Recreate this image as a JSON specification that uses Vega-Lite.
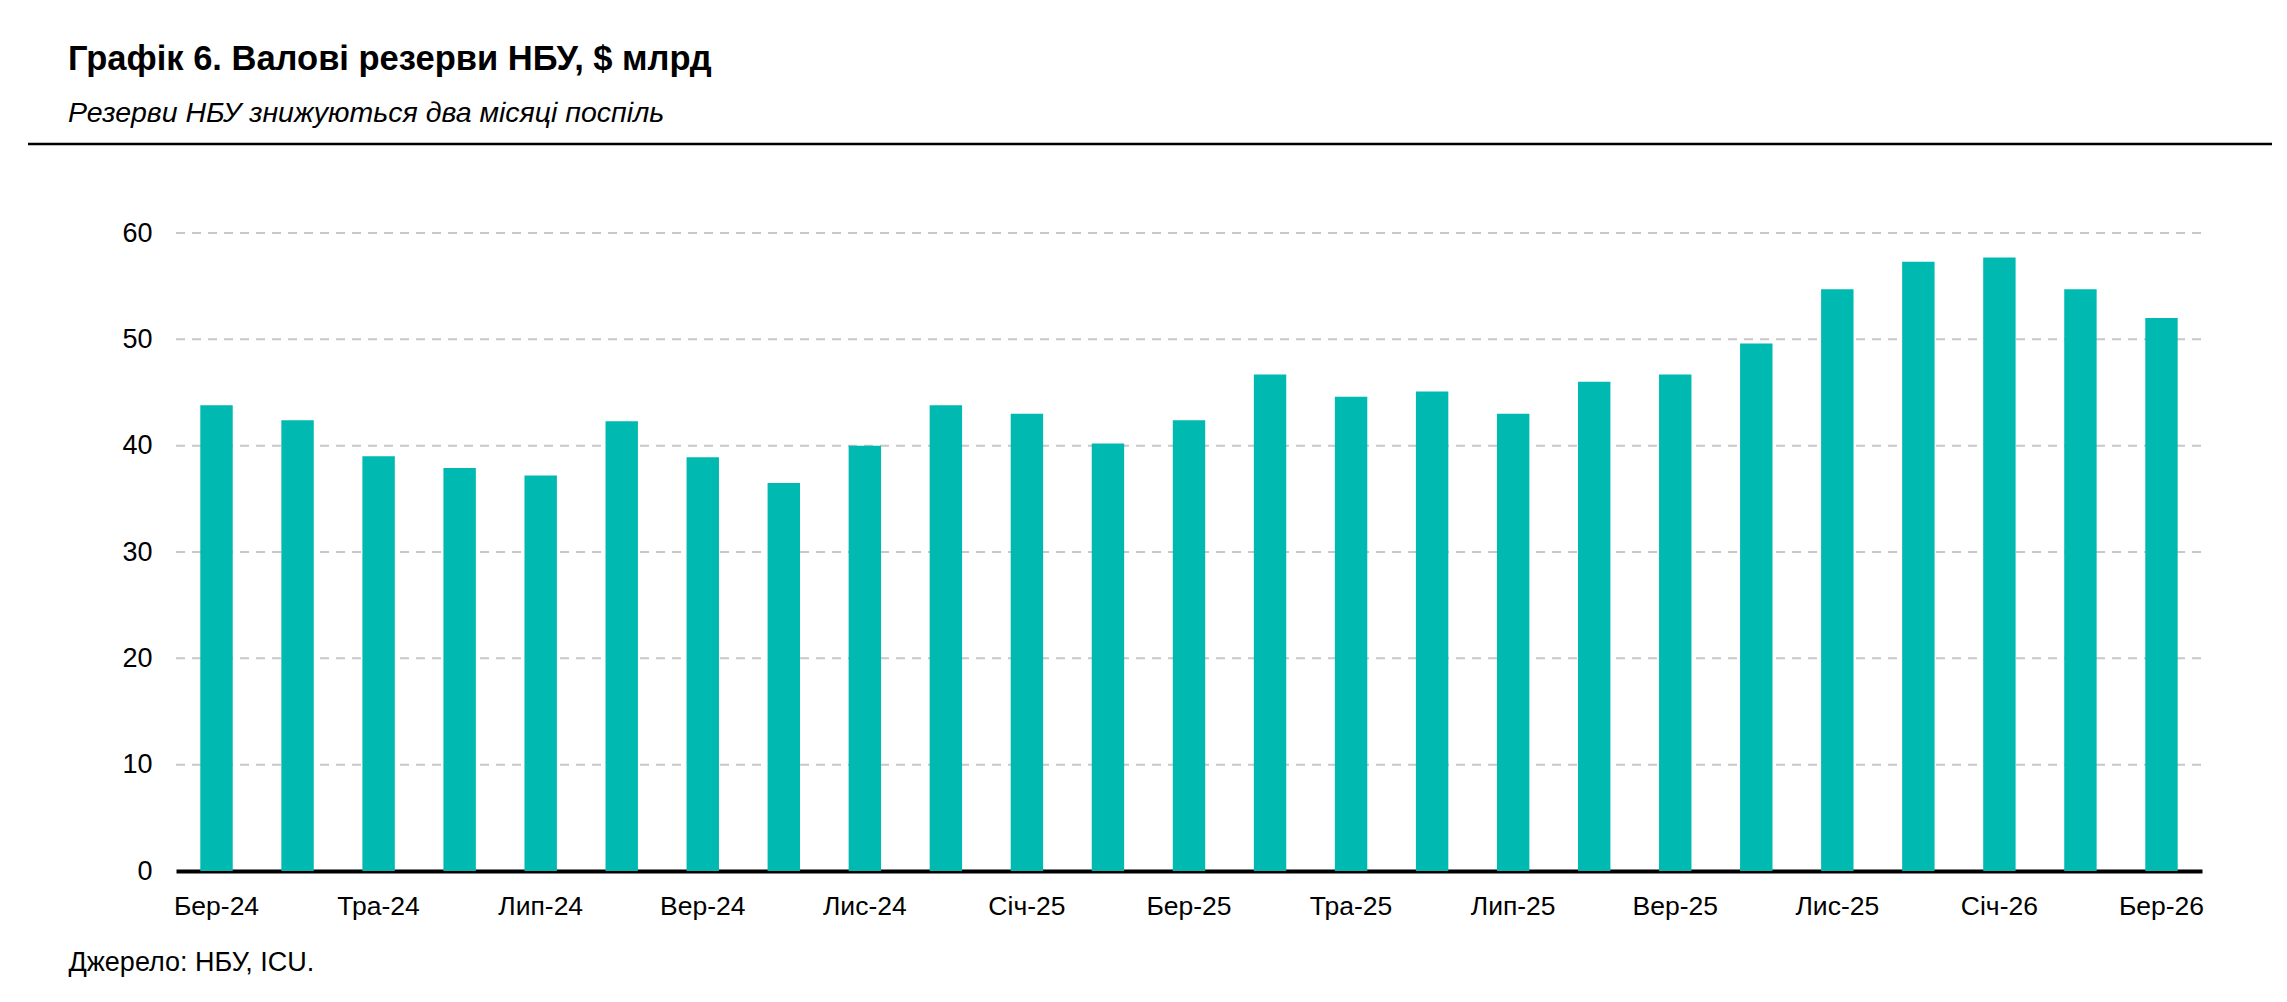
{
  "$schema": "https://vega.github.io/schema/vega-lite/v6.json",
  "width": 2244,
  "height": 727,
  "autosize": {"type": "none"},
  "padding": {"left": 28, "top": 144, "right": 15, "bottom": 131},
  "background": "white",
  "config": {"view": {"stroke": null}, "font": "Liberation Sans"},
  "title": {
    "text": "Графік 6. Валові резерви НБУ, $ млрд",
    "subtitle": "Резерви НБУ знижуються два місяці поспіль",
    "anchor": "start",
    "frame": "group",
    "dx": 40,
    "offset": 14,
    "font": "Liberation Sans",
    "fontSize": 34.5,
    "fontWeight": "bold",
    "color": "black",
    "subtitleFont": "Liberation Sans",
    "subtitleFontSize": 28.5,
    "subtitleFontStyle": "italic",
    "subtitleColor": "black",
    "subtitlePadding": 22
  },
  "datasets": {
    "reserves": [
      {"month": "Бер-24", "value": 43.8},
      {"month": "Кві-24", "value": 42.4},
      {"month": "Тра-24", "value": 39.0},
      {"month": "Чер-24", "value": 37.9},
      {"month": "Лип-24", "value": 37.2},
      {"month": "Сер-24", "value": 42.3},
      {"month": "Вер-24", "value": 38.9},
      {"month": "Жов-24", "value": 36.5},
      {"month": "Лис-24", "value": 40.0},
      {"month": "Гру-24", "value": 43.8},
      {"month": "Січ-25", "value": 43.0},
      {"month": "Лют-25", "value": 40.2},
      {"month": "Бер-25", "value": 42.4},
      {"month": "Кві-25", "value": 46.7},
      {"month": "Тра-25", "value": 44.6},
      {"month": "Чер-25", "value": 45.1},
      {"month": "Лип-25", "value": 43.0},
      {"month": "Сер-25", "value": 46.0},
      {"month": "Вер-25", "value": 46.7},
      {"month": "Жов-25", "value": 49.6},
      {"month": "Лис-25", "value": 54.7},
      {"month": "Гру-25", "value": 57.3},
      {"month": "Січ-26", "value": 57.7},
      {"month": "Лют-26", "value": 54.7},
      {"month": "Бер-26", "value": 52.0}
    ],
    "grid": [{"v": 10}, {"v": 20}, {"v": 30}, {"v": 40}, {"v": 50}, {"v": 60}]
  },
  "layer": [
    {
      "data": {"name": "grid"},
      "mark": {"type": "rule", "color": "#c8c8c8", "strokeWidth": 2, "strokeDash": [9, 7]},
      "encoding": {
        "x": {"datum": 0, "type": "quantitative", "scale": {"domain": [0, 1], "range": [148, 2174]}, "axis": null},
        "x2": {"datum": 1},
        "y": {"field": "v", "type": "quantitative", "scale": {"domain": [0, 60], "range": [727, 89], "nice": false}, "axis": null}
      }
    },
    {
      "data": {"name": "reserves"},
      "mark": {"type": "bar", "color": "#00b9b1"},
      "encoding": {
        "x": {
          "field": "month", "type": "nominal", "sort": null,
          "scale": {"range": [148, 2174], "paddingInner": 0.6, "paddingOuter": 0.3},
          "axis": {
            "values": ["Бер-24", "Тра-24", "Лип-24", "Вер-24", "Лис-24", "Січ-25", "Бер-25", "Тра-25", "Лип-25", "Вер-25", "Лис-25", "Січ-26", "Бер-26"],
            "domain": true, "domainColor": "black", "domainWidth": 4,
            "ticks": false, "tickSize": 0,
            "labelAngle": 0, "labelFontSize": 26.5, "labelColor": "black", "labelPadding": 22,
            "title": "Джерело: НБУ, ICU.",
            "titleX": 40, "titleY": 99, "titleAlign": "left", "titleBaseline": "alphabetic",
            "titleFontSize": 27, "titleFontWeight": "normal", "titleColor": "black"
          }
        },
        "y": {
          "field": "value", "type": "quantitative",
          "scale": {"domain": [0, 60], "range": [727, 89], "nice": false},
          "axis": {
            "values": [0, 10, 20, 30, 40, 50, 60],
            "grid": false, "domain": false, "ticks": false, "tickSize": 0,
            "offset": -148, "labelPadding": 24,
            "labelFontSize": 27, "labelColor": "black", "title": null
          }
        }
      }
    },
    {
      "data": {"values": [{}]},
      "mark": {"type": "rule", "color": "black", "strokeWidth": 2.5},
      "encoding": {
        "y": {"datum": 1, "type": "quantitative", "scale": {"domain": [0, 1]}, "axis": null}
      }
    }
  ],
  "resolve": {"scale": {"x": "independent", "y": "independent"}}
}
